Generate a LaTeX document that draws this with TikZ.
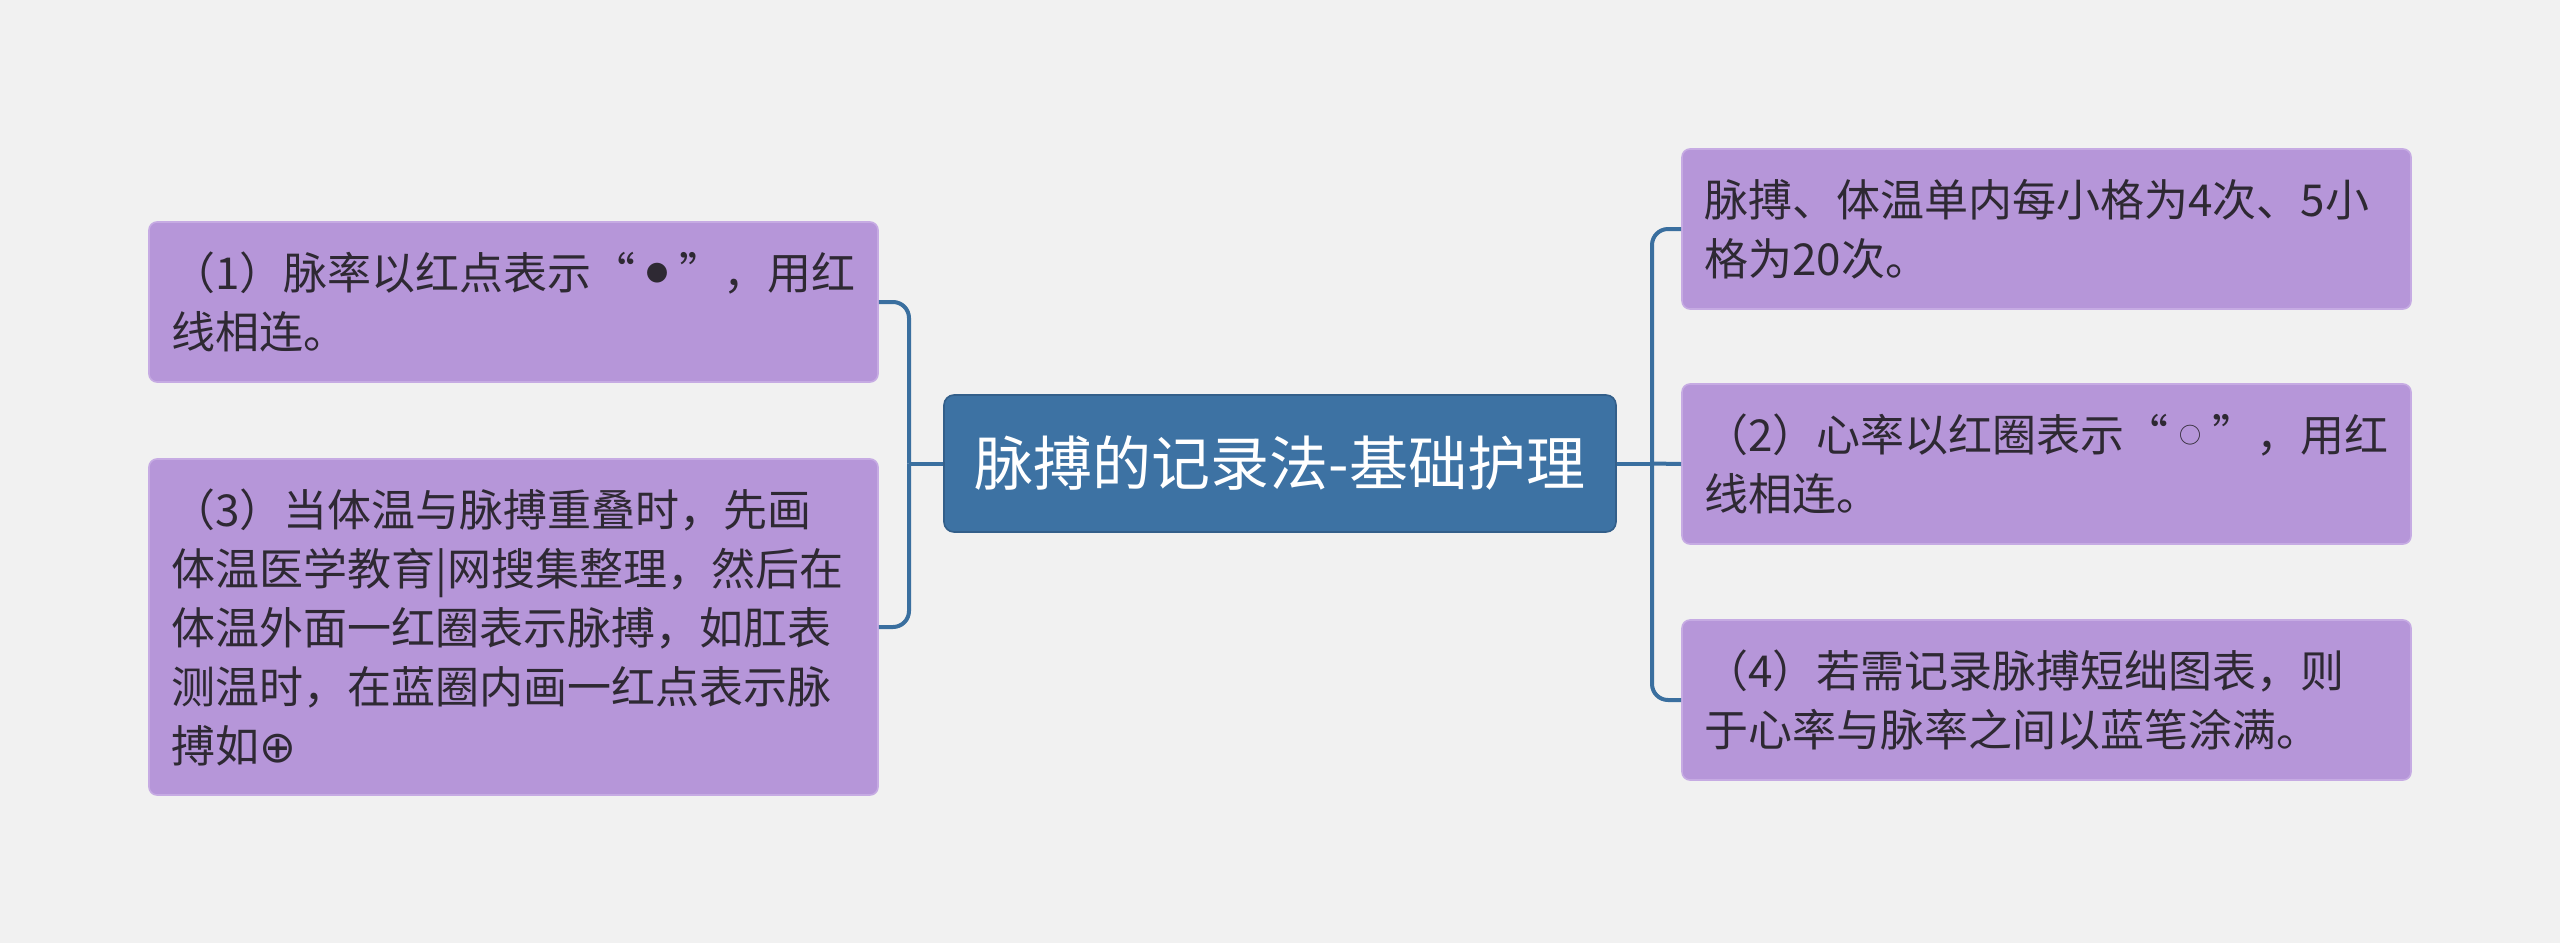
\documentclass[tikz,border=0pt]{standalone}
\usepackage{fontspec}
\setmainfont{Noto Sans CJK SC}
\newfontfamily\symfont{DejaVu Sans}
\definecolor{bg}{HTML}{F1F1F1}
\definecolor{rootfill}{HTML}{3D72A3}
\definecolor{rootdraw}{HTML}{335F8A}
\definecolor{leaffill}{HTML}{B696D9}
\definecolor{leafdraw}{HTML}{C6ABE3}
\definecolor{txt}{HTML}{2E2933}
\definecolor{conn}{HTML}{3A6F9F}
\newcommand{\smallsym}[1]{\makebox[22pt]{\raisebox{4pt}{\fontsize{11pt}{11pt}\selectfont #1}}}
\begin{document}
\begin{tikzpicture}[x=0.5pt,y=-0.5pt,
  leaf/.style={rectangle, rounded corners=4pt, fill=leaffill, draw=leafdraw, line width=0.8pt,
    minimum width=364.5pt, minimum height=80pt, text width=342pt, inner xsep=11.25pt, inner ysep=0pt,
    align=left, text=txt, font=\fontsize{22pt}{29.5pt}\selectfont},
  root/.style={rectangle, rounded corners=5pt, fill=rootfill, draw=rootdraw, line width=0.8pt,
    minimum width=336pt, minimum height=68.5pt, inner sep=0pt, text=white,
    font=\fontsize{29.5pt}{34pt}\selectfont},
  link/.style={draw=conn, line width=2pt, rounded corners=8pt}]
\useasboundingbox (0,0) rectangle (2560,943);
\fill[bg] (0,0) rectangle (2560,943);

\node[root] (C) at (1280,463.5) {脉搏的记录法-基础护理};

\node[leaf] (L1) at (513.5,302) {（1）脉率以红点表示“\smallsym{●}”，用红\\线相连。};
\node[leaf, minimum height=168pt] (L3) at (513.5,627) {（3）当体温与脉搏重叠时，先画\\体温医学教育|网搜集整理，然后在\\体温外面一红圈表示脉搏，如肛表\\测温时，在蓝圈内画一红点表示脉\\搏如{\symfont ⊕}};

\node[leaf] (RA) at (2046.5,229) {脉搏、体温单内每小格为4次、5小\\格为20次。};
\node[leaf] (R2) at (2046.5,464) {（2）心率以红圈表示“\smallsym{○}”，用红\\线相连。};
\node[leaf] (R4) at (2046.5,700) {（4）若需记录脉搏短绌图表，则\\于心率与脉率之间以蓝笔涂满。};

\coordinate (lj) at (909,463.5);
\coordinate (rj) at (1652,463.5);

\draw[link] (C.west) -- (lj);
\draw[link] (lj) |- (L1.east);
\draw[link] (lj) |- (L3.east);
\draw[link] (C.east) -- (rj);
\draw[link] (rj) |- (RA.west);
\draw[link] (rj) -- (R2.west);
\draw[link] (rj) |- (R4.west);
\end{tikzpicture}
\end{document}
